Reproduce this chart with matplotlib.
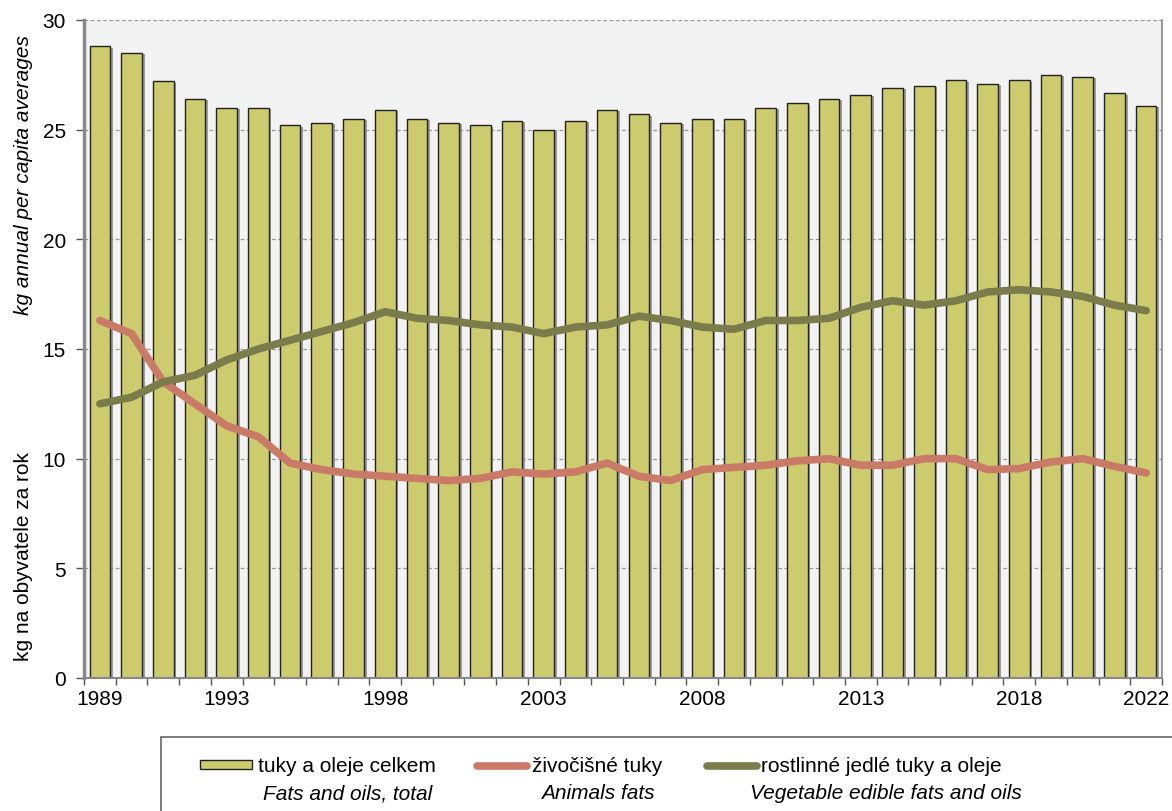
import matplotlib
matplotlib.use("Agg")
import matplotlib.pyplot as plt
import matplotlib.patheffects as pe
from matplotlib.patches import Rectangle
from matplotlib.lines import Line2D
import numpy as np

years = list(range(1989, 2023))
total = [28.8, 28.5, 27.2, 26.4, 26.0, 26.0, 25.2, 25.3, 25.5, 25.9,
         25.5, 25.3, 25.2, 25.4, 25.0, 25.4, 25.9, 25.7, 25.3, 25.5,
         25.5, 26.0, 26.2, 26.4, 26.6, 26.9, 27.0, 27.25, 27.1, 27.25,
         27.5, 27.4, 26.65, 26.1]
animal = [16.3, 15.7, 13.5, 12.5, 11.5, 11.0, 9.8, 9.5, 9.3, 9.2,
          9.1, 9.0, 9.1, 9.4, 9.3, 9.4, 9.8, 9.2, 9.0, 9.5,
          9.6, 9.7, 9.9, 10.0, 9.7, 9.7, 10.0, 10.0, 9.5, 9.55,
          9.85, 10.0, 9.65, 9.35]
vegetable = [12.5, 12.8, 13.5, 13.8, 14.5, 15.0, 15.4, 15.8, 16.2, 16.7,
             16.4, 16.3, 16.1, 16.0, 15.7, 16.0, 16.1, 16.5, 16.3, 16.0,
             15.9, 16.3, 16.3, 16.4, 16.9, 17.2, 17.0, 17.2, 17.6, 17.7,
             17.6, 17.4, 17.0, 16.75]
label_years = [1989, 1993, 1998, 2003, 2008, 2013, 2018, 2022]

leg_cz = ["tuky a oleje celkem", "živočišné tuky", "rostlinné jedlé tuky a oleje"]
leg_en = ["Fats and oils, total", "Animals fats", "Vegetable edible fats and oils"]
ylab_cz = "kg na obyvatele za rok"
ylab_en = "kg annual per capita averages"

BAR = "#cccc6e"
ANI = "#c97b68"
VEG = "#7a7d4b"

plt.rcParams['font.family'] = ['Liberation Sans', 'DejaVu Sans']

W, H = 1172, 812
fig = plt.figure(figsize=(W / 100, H / 100), dpi=100)
ax = fig.add_axes([84 / W, 1 - 679 / H, (1162 - 84) / W, (679 - 21) / H])
ax.set_facecolor("#f2f2f2")

x = np.arange(len(years))
bars = ax.bar(x, total, width=0.65, color=BAR, edgecolor="#222222", linewidth=1.0, zorder=2)
for b in bars:
    b.set_path_effects([pe.SimplePatchShadow(offset=(2, -1), shadow_rgbFace="#888888", alpha=0.8), pe.Normal()])

ax.plot(x, animal, color=ANI, lw=5.5, solid_capstyle="round", solid_joinstyle="round", zorder=4)
ax.plot(x, vegetable, color=VEG, lw=5.5, solid_capstyle="round", solid_joinstyle="round", zorder=4)

ax.set_xlim(-0.5, len(years) - 0.5)
ax.set_ylim(0, 30)
ax.set_yticks(range(0, 31, 5))
ax.yaxis.grid(True, color="#999999", linestyle=(0, (3, 2)), linewidth=0.9, zorder=1)
ax.set_axisbelow(True)

ax.set_xticks(np.arange(-0.5, len(years), 1.0))
ax.set_xticklabels([])
ax.set_xticks([years.index(y) for y in label_years], minor=True)
ax.set_xticklabels([str(y) for y in label_years], minor=True)
ax.tick_params(axis="x", which="major", length=5, color="#555555", width=1)
ax.tick_params(axis="x", which="minor", length=0, labelsize=15, pad=8)
ax.tick_params(axis="y", length=6, color="#555555", width=1, labelsize=15, pad=7)

ax.spines["top"].set_visible(False)
ax.spines["left"].set_color("#888888")
ax.spines["left"].set_linewidth(2.5)
ax.spines["bottom"].set_color("#888888")
ax.spines["bottom"].set_linewidth(1.5)
ax.spines["right"].set_color("#888888")
ax.spines["right"].set_linewidth(1.2)

fig.text(24 / W, 1 - 557 / H, ylab_cz, rotation=90, ha="center", va="center", fontsize=15)
fig.text(24 / W, 1 - 175 / H, ylab_en, rotation=90, ha="center", va="center", fontsize=15, style="italic")

# legend box
fig.patches.append(Rectangle((161 / W, 1 - 830 / H), (1200 - 161) / W, (830 - 738) / H,
                             transform=fig.transFigure, facecolor="white", edgecolor="#666666", lw=1.2))
y1 = 1 - 767 / H
y2 = 1 - 794 / H
fig.patches.append(Rectangle((200 / W, 1 - 770 / H), 52 / W, 9 / H, transform=fig.transFigure,
                             facecolor=BAR, edgecolor="#222222", lw=1.0))
fig.lines.append(Line2D([477 / W, 527 / W], [y1, y1], transform=fig.transFigure, color=ANI, lw=5.5,
                        solid_capstyle="round"))
fig.lines.append(Line2D([707 / W, 757 / W], [y1, y1], transform=fig.transFigure, color=VEG, lw=5.5,
                        solid_capstyle="round"))
fs = 15
centers = [348, 598, 886]
starts = [258, 532, 761]
for s, c, t1, t2 in zip(starts, centers, leg_cz, leg_en):
    fig.text(s / W, y1, t1, ha="left", va="center", fontsize=fs)
    fig.text(c / W, y2, t2, ha="center", va="center", fontsize=fs, style="italic")

fig.savefig("out.png", dpi=100)
